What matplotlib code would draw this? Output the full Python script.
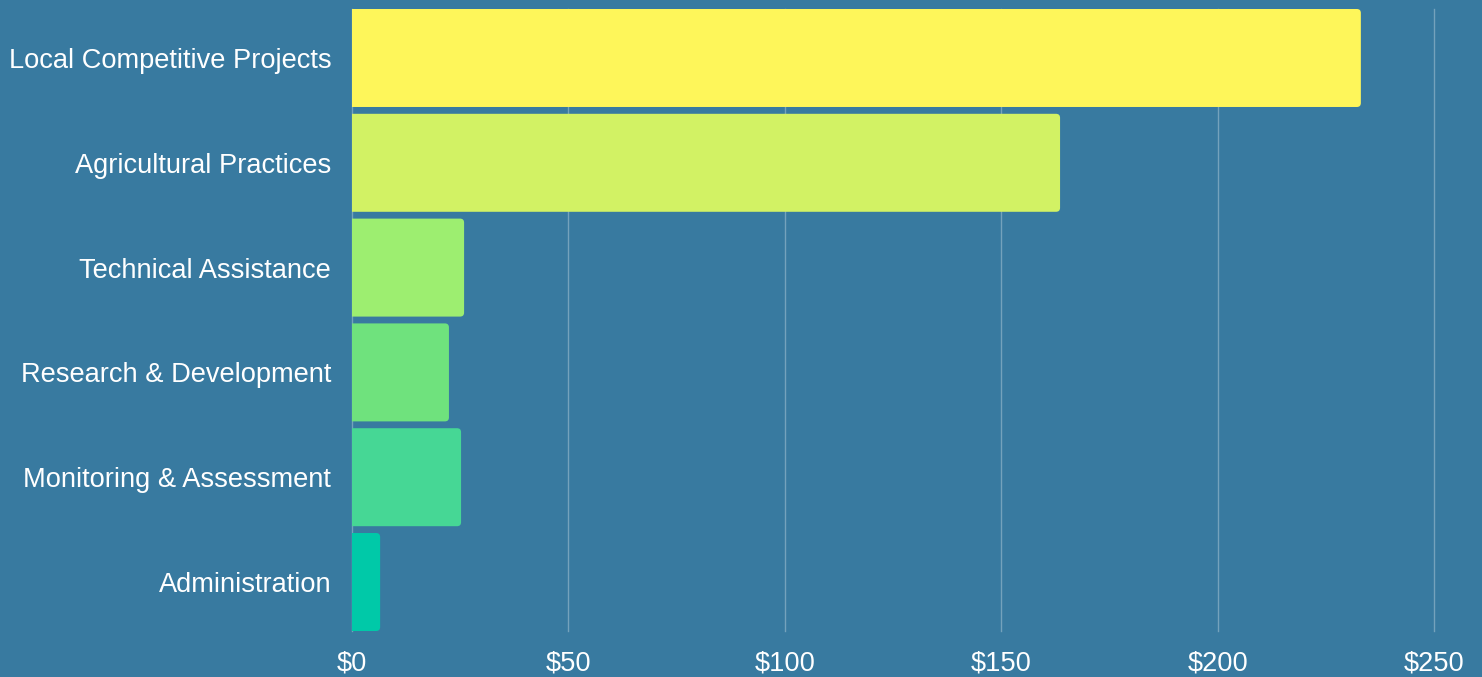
import matplotlib
matplotlib.use("Agg")
import matplotlib.pyplot as plt
from matplotlib.patches import FancyBboxPatch

# Data
categories = ["Local Competitive Projects", "Agricultural Practices", "Technical Assistance",
              "Research & Development", "Monitoring & Assessment", "Administration"]
values = [233.1, 163.6, 25.9, 22.4, 25.2, 6.5]
colors = ["#fef65a", "#d2f264", "#9dee70", "#6fe27d", "#46d795", "#00c9a8"]
xticks = [0, 50, 100, 150, 200, 250]
xlabels = ["$0", "$50", "$100", "$150", "$200", "$250"]

bg = "#387aa0"
plt.rcParams['font.family'] = ['Liberation Sans', 'DejaVu Sans']

fig = plt.figure(figsize=(14.82, 6.77), dpi=100, facecolor=bg)
ax = fig.add_axes([352 / 1482, 1 - 631 / 677, (1434 - 352) / 1482, (631 - 9) / 677])
ax.set_facecolor(bg)

h = 0.935
ax.set_xlim(0, 250)
ax.set_ylim(len(categories) - 1 + h / 2, -h / 2)

# rounded right corners; left side starts off-axes and gets clipped
px_x = 250 / (1434 - 352)
px_y = (len(categories) - 1 + h) / (631 - 9)
r = 4 * px_x
for i, (v, c) in enumerate(zip(values, colors)):
    box = FancyBboxPatch((-10 + r, i - h / 2 + r * (px_y / px_x)), v + 10 - 2 * r, h - 2 * r * (px_y / px_x),
                         boxstyle=f"round,pad={r},rounding_size={r}",
                         mutation_aspect=px_y / px_x, facecolor=c, edgecolor="none", zorder=3)
    ax.add_patch(box)

ax.set_xticks(xticks)
ax.set_xticklabels(xlabels)
ax.set_yticks(range(len(categories)))
ax.set_yticklabels(categories)
ax.tick_params(axis="both", length=0, colors="white", labelsize=19.6)
ax.tick_params(axis="y", pad=15)
ax.tick_params(axis="x", pad=14)
ax.grid(axis="x", color="white", alpha=0.3, linewidth=1, zorder=0)
for gl in ax.get_xgridlines():
    gl.set_clip_on(False)
for s in ax.spines.values():
    s.set_visible(False)

fig.savefig("out.png", dpi=100, facecolor=bg)
